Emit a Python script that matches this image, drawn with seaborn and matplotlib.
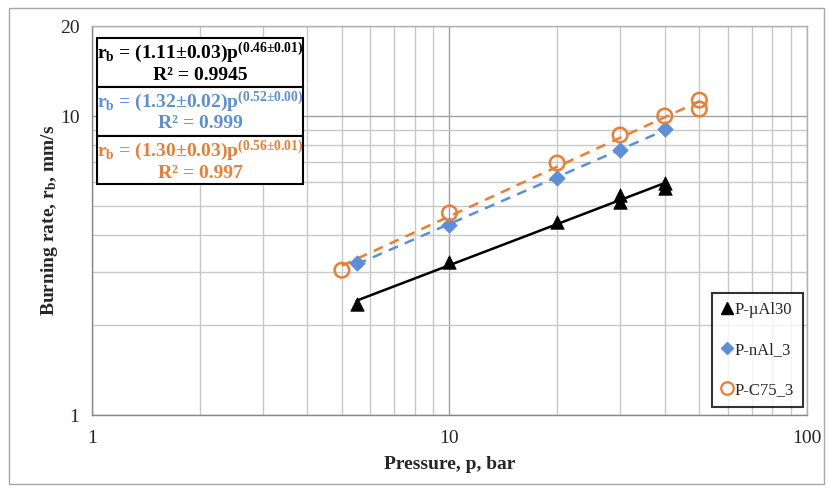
import numpy as np
import pandas as pd
import matplotlib
matplotlib.use("Agg")
import matplotlib.pyplot as plt
from matplotlib.lines import Line2D
from matplotlib.patches import Rectangle
from matplotlib.ticker import FixedLocator, NullFormatter
import seaborn as sns

# data (pressure in bar, burning rate in mm/s)
p_mual30 = [5.5, 10, 20, 30, 30, 40, 40]
rb_mual30 = [2.35, 3.25, 4.42, 5.44, 5.16, 5.97, 5.74]

p_nal3 = [5.5, 10, 20, 30, 40]
rb_nal3 = [3.22, 4.32, 6.2, 7.7, 9.05]

p_c75 = [5, 10, 20, 30, 40, 50, 50]
rb_c75 = [3.05, 4.74, 6.96, 8.64, 10.0, 11.3, 10.55]

series_names = ["P-\u00b5Al30", "P-nAl_3", "P-C75_3"]
fit_labels = [
    ("1.11\u00b10.03", "0.46\u00b10.01", "0.9945"),
    ("1.32\u00b10.02", "0.52\u00b10.00", "0.999"),
    ("1.30\u00b10.03", "0.56\u00b10.01", "0.997"),
]

black = "#000000"
blue = "#5B8FD8"
orange = "#ED7D31"

sns.set_style("white")
plt.rcParams["font.family"] = ["Liberation Serif", "DejaVu Serif"]
plt.rcParams["mathtext.fontset"] = "custom"
plt.rcParams["mathtext.rm"] = "Liberation Serif"
plt.rcParams["mathtext.bf"] = "Liberation Serif:bold"
plt.rcParams["mathtext.it"] = "Liberation Serif:italic"

fig = plt.figure(figsize=(8.29, 4.88), dpi=100)
ax = fig.add_axes([92 / 829, 1 - 415 / 488, (807 - 92) / 829, (415 - 26) / 488])

# outer chart border
fig.patches.append(Rectangle((9 / 829, 1 - 484 / 488), 815 / 829, 476 / 488,
                             transform=fig.transFigure, fill=False,
                             edgecolor="#A6A6A6", linewidth=1.0))


def power_fit(p, rb):
    b, a = np.polyfit(np.log10(p), np.log10(rb), 1)
    px = np.array([min(p), max(p)])
    return px, 10 ** a * px ** b


frames = []
for name, p, rb in [(series_names[0], p_mual30, rb_mual30),
                    (series_names[1], p_nal3, rb_nal3),
                    (series_names[2], p_c75, rb_c75)]:
    px, py = power_fit(p, rb)
    frames.append(pd.DataFrame({"p": px, "rb": py, "series": name}))
fits = pd.concat(frames)

sns.lineplot(data=fits[fits.series == series_names[0]], x="p", y="rb", ax=ax,
             color=black, linewidth=1.8, legend=False, zorder=3)
sns.lineplot(data=fits[fits.series == series_names[1]], x="p", y="rb", ax=ax,
             color=blue, linewidth=1.8, linestyle=(0, (4, 3)), legend=False, zorder=3)
sns.lineplot(data=fits[fits.series == series_names[2]], x="p", y="rb", ax=ax,
             color=orange, linewidth=1.8, linestyle=(0, (4, 3)), legend=False, zorder=3)

sns.scatterplot(x=p_mual30, y=rb_mual30, ax=ax, marker="^", s=95, color=black,
                edgecolor=black, linewidth=0.5, zorder=4)
sns.scatterplot(x=p_nal3, y=rb_nal3, ax=ax, marker="D", s=62, color=blue,
                edgecolor=blue, linewidth=0.5, zorder=4)
sns.scatterplot(x=p_c75, y=rb_c75, ax=ax, marker="o", s=110, facecolors="none",
                edgecolor=orange, linewidth=1.8, zorder=5)

ax.set_xscale("log")
ax.set_yscale("log")
ax.set_xlim(1, 100)
ax.set_ylim(1, 20)

ax.xaxis.set_major_locator(FixedLocator([1, 10, 100]))
ax.xaxis.set_minor_locator(FixedLocator([k * 10 ** d for d in (0, 1) for k in range(2, 10)]))
ax.yaxis.set_major_locator(FixedLocator([1, 10, 20]))
ax.yaxis.set_minor_locator(FixedLocator([2, 3, 4, 5, 6, 7, 8, 9]))
ax.set_xticklabels(["1", "10", "100"])
ax.set_yticklabels(["1", "10", "20"])
ax.xaxis.set_minor_formatter(NullFormatter())
ax.yaxis.set_minor_formatter(NullFormatter())

ax.grid(which="major", color="#A0A0A0", linewidth=1.0)
ax.grid(which="minor", color="#C8C8C8", linewidth=1.0)
ax.set_axisbelow(True)
ax.tick_params(which="major", length=5, width=1, color="#888888", labelsize=14,
               direction="out", pad=4)
ax.tick_params(which="minor", length=0)
ax.tick_params(axis="x", pad=6)

for side in ["left", "bottom"]:
    ax.spines[side].set_color("#888888")
    ax.spines[side].set_linewidth(1.0)
for side in ["top", "right"]:
    ax.spines[side].set_color("#B0B0B0")
    ax.spines[side].set_linewidth(1.0)

ax.set_xlabel("Pressure, p, bar", fontsize=14, fontweight="bold", labelpad=6)
ax.set_ylabel(r"Burning rate, r$_{\mathbf{b}}$, mm/s", fontsize=14,
              fontweight="bold", labelpad=0)

# fit equation boxes
box_edges = [38, 87, 136, 184]
box_colors = [black, blue, orange]
for i, (coef, expo, r2) in enumerate(fit_labels):
    top, bot = box_edges[i], box_edges[i + 1]
    fig.patches.append(Rectangle((97 / 829, 1 - bot / 488), (303 - 97) / 829,
                                 (bot - top) / 488, transform=fig.transFigure,
                                 facecolor="white", edgecolor="black",
                                 linewidth=1.5, zorder=6))
    cx = 200 / 829
    y1 = 1 - (top + 15) / 488
    y2 = 1 - (top + 37) / 488
    fig.text(cx, y1, "r$_{\\mathbf{b}}$ = (" + coef + ")p$^{\\mathbf{(" + expo + ")}}$",
             ha="center", va="center", fontsize=14, fontweight="bold",
             color=box_colors[i], zorder=7)
    fig.text(cx, y2, "R\u00b2 = " + r2, ha="center", va="center", fontsize=14,
             fontweight="bold", color=box_colors[i], zorder=7)

handles = [
    Line2D([], [], linestyle="none", marker="^", markersize=9, color=black),
    Line2D([], [], linestyle="none", marker="D", markersize=6, color=blue),
    Line2D([], [], linestyle="none", marker="o", markersize=9, markerfacecolor="none",
           markeredgecolor=orange, markeredgewidth=1.6),
]
leg = ax.legend(handles, series_names, loc="lower right", bbox_to_anchor=(0.9945, 0.02),
                fontsize=12, frameon=True, fancybox=False, edgecolor="black",
                handlelength=0.7, handletextpad=0.1, labelspacing=1.45,
                borderpad=0.55, borderaxespad=0)
leg.get_frame().set_linewidth(1.5)

fig.savefig("out.png", dpi=100)
